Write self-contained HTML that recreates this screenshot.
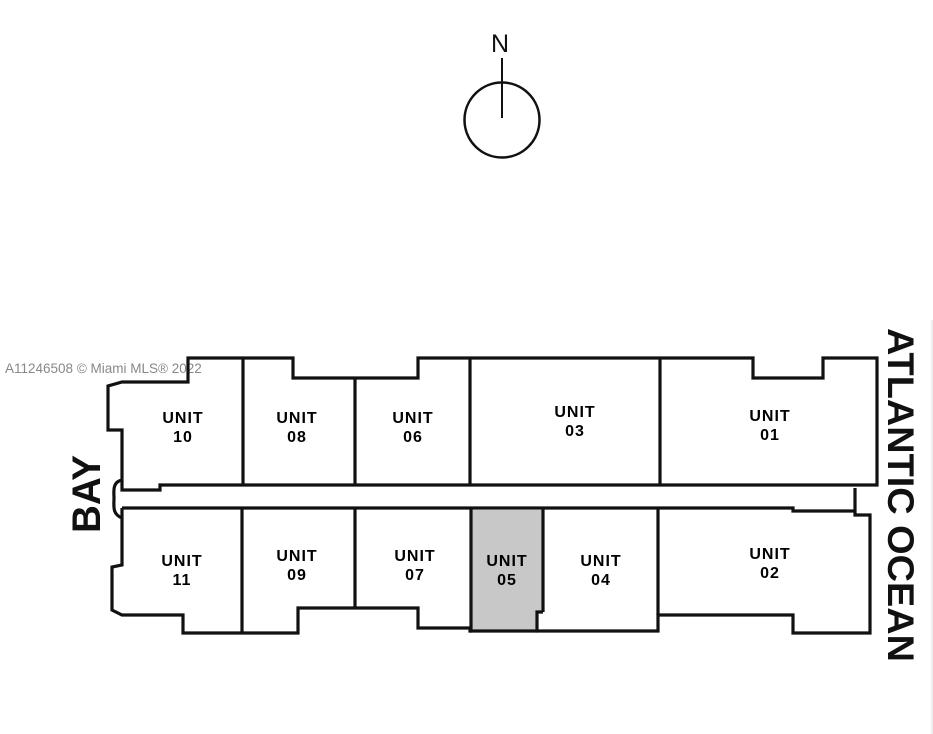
<!DOCTYPE html>
<html><head><style>html,body{margin:0;padding:0;background:#fff;}svg{display:block}</style></head>
<body>
<svg width="933" height="734" viewBox="0 0 933 734" xmlns="http://www.w3.org/2000/svg">
<rect width="933" height="734" fill="#fff"/>
<line x1="932" y1="320" x2="932" y2="734" stroke="#ddd" stroke-width="1"/>
<!-- compass -->
<text x="500" y="52" font-family="Liberation Sans, sans-serif" font-size="25" text-anchor="middle" fill="#111">N</text>
<circle cx="502" cy="120" r="37.5" fill="none" stroke="#111" stroke-width="2.5"/>
<line x1="502" y1="58" x2="502" y2="118" stroke="#111" stroke-width="2"/>
<!-- watermark -->
<text x="5" y="373" font-family="Liberation Sans, sans-serif" font-size="13.5" fill="#888">A11246508 © Miami MLS® 2022</text>
<g fill="none" stroke="#111" stroke-width="3.2" stroke-linejoin="miter">
<path d="M472,510 L543,510 L543,612 L537,612 L537,630 L472,630 Z" fill="#c8c8c8" stroke="none"/>
<path d="M188,358 L293,358 L293,378 L418,378 L418,358 L753,358 L753,378 L823,378 L823,358 L877,358 L877,485 L160,485 L160,490 L122,490 L122,430 L108,430 L108,386 L122,382 L188,382 Z"/>
<path d="M122,480 C112,482 114,492 114,498 C114,506 112,514 122,518"/>
<path d="M122,508 L793,508 L793,511 L855,511 L855,488 M855,511 L855,515 L870,515 L870,633 L793,633 L793,615 L658,615 L658,631 L537,631 L537,612 L543,612 M472,631 L470,631 L470,628 L418,628 L418,608 L298,608 L298,633 L183,633 L183,615 L122,615 L112,610 L112,567 L122,565 L122,508"/>
<path d="M470,631 L537,631"/>
<line x1="243" y1="358" x2="243" y2="485"/>
<line x1="355" y1="378" x2="355" y2="485"/>
<line x1="470" y1="358" x2="470" y2="485"/>
<line x1="660" y1="358" x2="660" y2="485"/>
<line x1="242" y1="508" x2="242" y2="633"/>
<line x1="355" y1="508" x2="355" y2="608"/>
<line x1="471" y1="508" x2="471" y2="631"/>
<line x1="543" y1="508" x2="543" y2="612"/>
<line x1="658" y1="508" x2="658" y2="615"/>
</g>
<g font-family="Liberation Sans, sans-serif" font-weight="bold" font-size="16" text-anchor="middle" fill="#000" letter-spacing="1">
<text x="183" y="423">UNIT</text><text x="183" y="442">10</text>
<text x="297" y="423">UNIT</text><text x="297" y="442">08</text>
<text x="413" y="423">UNIT</text><text x="413" y="442">06</text>
<text x="575" y="417">UNIT</text><text x="575" y="436">03</text>
<text x="770" y="421">UNIT</text><text x="770" y="440">01</text>
<text x="182" y="566">UNIT</text><text x="182" y="585">11</text>
<text x="297" y="561">UNIT</text><text x="297" y="580">09</text>
<text x="415" y="561">UNIT</text><text x="415" y="580">07</text>
<text x="507" y="566">UNIT</text><text x="507" y="585">05</text>
<text x="601" y="566">UNIT</text><text x="601" y="585">04</text>
<text x="770" y="559">UNIT</text><text x="770" y="578">02</text>
</g>
<text transform="translate(100,533) rotate(-90)" font-family="Liberation Sans, sans-serif" font-weight="bold" font-size="40" fill="#111" textLength="78" lengthAdjust="spacingAndGlyphs">BAY</text>
<text transform="translate(888,328) rotate(90)" font-family="Liberation Sans, sans-serif" font-weight="bold" font-size="37" fill="#111" textLength="334" lengthAdjust="spacingAndGlyphs">ATLANTIC OCEAN</text>
</svg>
</body></html>
